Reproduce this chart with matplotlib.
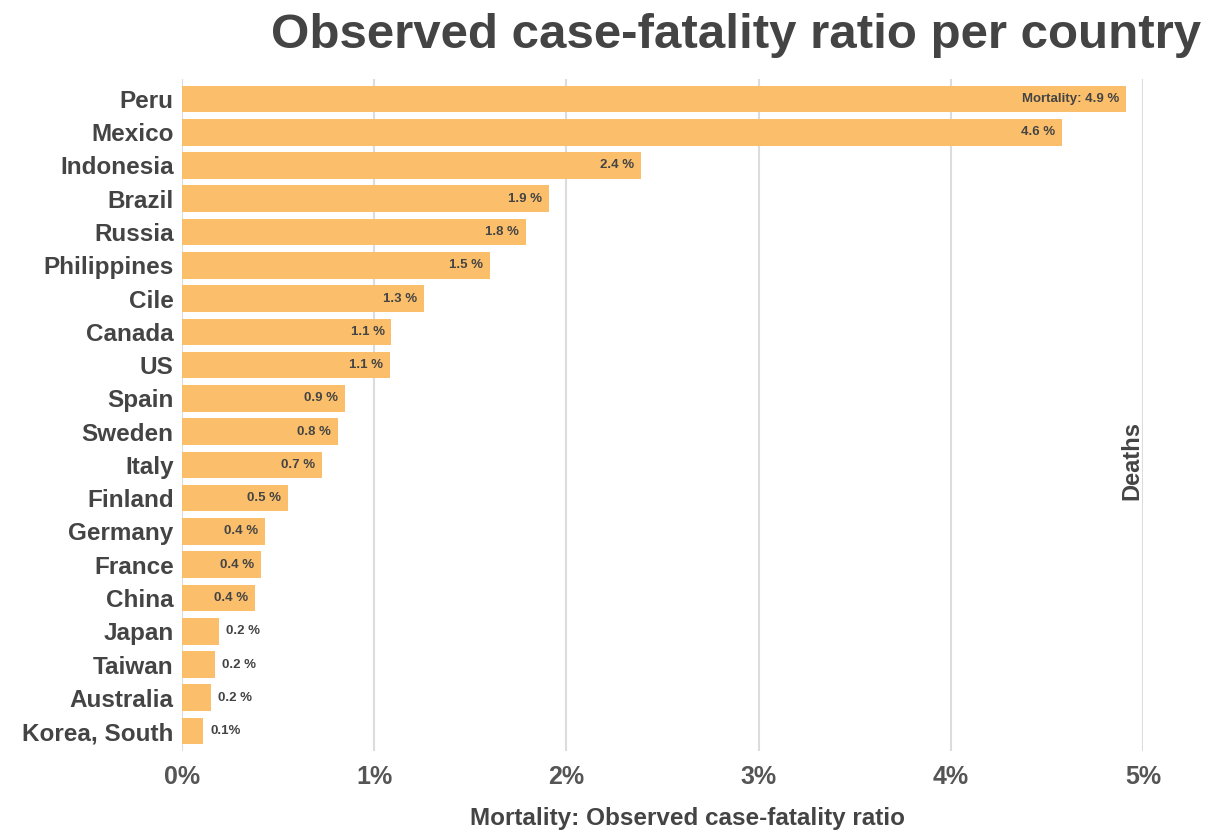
import matplotlib
matplotlib.use("Agg")
import matplotlib.pyplot as plt

countries = ["Peru", "Mexico", "Indonesia", "Brazil", "Russia", "Philippines", "Cile",
             "Canada", "US", "Spain", "Sweden", "Italy", "Finland", "Germany", "France",
             "China", "Japan", "Taiwan", "Australia", "Korea, South"]
mortality = [4.91, 4.58, 2.39, 1.91, 1.79, 1.60, 1.26, 1.09, 1.08, 0.85, 0.81, 0.73,
             0.55, 0.43, 0.41, 0.38, 0.19, 0.17, 0.15, 0.11]
labels = ["Mortality: 4.9 %", "4.6 %", "2.4 %", "1.9 %", "1.8 %", "1.5 %", "1.3 %",
          "1.1 %", "1.1 %", "0.9 %", "0.8 %", "0.7 %", "0.5 %", "0.4 %", "0.4 %",
          "0.4 %", "0.2 %", "0.2 %", "0.2 %", "0.1%"]
inside = [True] * 16 + [False] * 4
xticks = [0, 1, 2, 3, 4, 5]
xticklabels = ["0%", "1%", "2%", "3%", "4%", "5%"]

plt.rcParams['font.family'] = ['Liberation Sans', 'DejaVu Sans']
txt = '#444444'

fig = plt.figure(figsize=(12.09, 8.32), dpi=100)
ax = fig.add_axes([182/1209, 1-751/832, (1143-182)/1209, (751-79)/832])

ypos = list(range(len(countries)))
ax.barh(ypos, mortality, height=0.8, color='#FBBF6B', zorder=2)
ax.set_ylim(len(countries) - 0.4, -0.6)
ax.set_xlim(0, 5)

for y, v, lab, ins in zip(ypos, mortality, labels, inside):
    if ins:
        ax.annotate(lab, (v, y), xytext=(-5, 0), textcoords='offset points',
                    ha='right', va='center', fontsize=9.5, fontweight='bold', color=txt, zorder=3)
    else:
        ax.annotate(lab, (v, y), xytext=(5.5, 0), textcoords='offset points',
                    ha='left', va='center', fontsize=9.5, fontweight='bold', color=txt, zorder=3)

ax.set_yticks(ypos)
ax.set_yticklabels(countries, fontsize=17.5, fontweight='bold', color=txt)
ax.set_xticks(xticks)
ax.set_xticklabels(xticklabels, fontsize=18, fontweight='bold', color='#555555')
ax.tick_params(axis='both', length=0)
ax.tick_params(axis='y', pad=6)
ax.tick_params(axis='x', pad=10)
ax.grid(axis='x', color='#dcdcdc', linewidth=1.5, zorder=0)
ax.set_axisbelow(True)
for s in ax.spines.values():
    s.set_visible(False)

fig.text(688/1209, 1-819/832, "Mortality: Observed case-fatality ratio", ha='center',
         va='center', fontsize=17.5, fontweight='bold', color=txt)
fig.text(1132/1209, 1-460/832, "Deaths", rotation=90, ha='center', va='center',
         fontsize=17, fontweight='bold', color=txt)
fig.text(736/1209, 1-36/832, "Observed case-fatality ratio per country", ha='center',
         va='center', fontsize=35.5, fontweight='bold', color='#444444')

fig.savefig("out.png", dpi=100)
